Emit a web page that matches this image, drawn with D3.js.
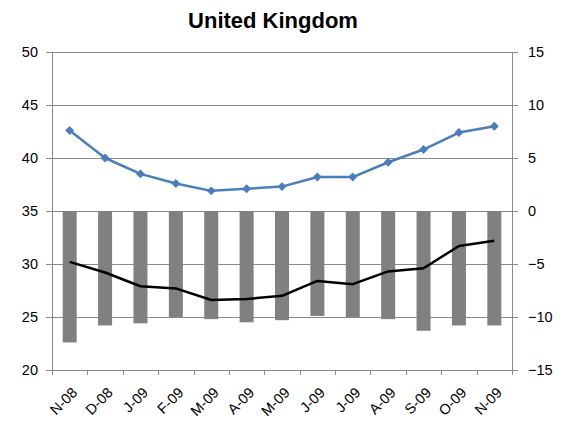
<!DOCTYPE html>
<html>
<head>
<meta charset="utf-8">
<script src="https://cdn.jsdelivr.net/npm/d3@7/dist/d3.min.js"></script>
<style>
  body { margin: 0; background: #fff; }
  svg text { font-family: "Liberation Sans", Arial, sans-serif; fill: #000; }
</style>
</head>
<body>
<svg id="chart" width="564" height="421"></svg>
<script>
const months = ["N-08","D-08","J-09","F-09","M-09","A-09","M-09","J-09","J-09","A-09","S-09","O-09","N-09"];
// Left-axis series
const blueSeries  = [42.6, 40.0, 38.5, 37.6, 36.9, 37.1, 37.3, 38.2, 38.2, 39.6, 40.8, 42.4, 43.0];
const blackSeries = [30.2, 29.2, 27.9, 27.7, 26.6, 26.7, 27.0, 28.4, 28.1, 29.3, 29.6, 31.7, 32.2];
// Right-axis bars
const barSeries   = [-12.4, -10.8, -10.6, -10.0, -10.2, -10.5, -10.3, -9.9, -10.0, -10.2, -11.3, -10.8, -10.8];
const leftTicks  = [20, 25, 30, 35, 40, 45, 50];
const rightTicks = [-15, -10, -5, 0, 5, 10, 15];

const svg = d3.select("#chart");
const m = { left: 52, right: 512, top: 52, bottom: 370 };
const gridColor = "#8a8a8a";

const x = d3.scaleBand().domain(d3.range(months.length)).range([m.left, m.right]).paddingInner(0).paddingOuter(0);
const yL = d3.scaleLinear().domain([20, 50]).range([m.bottom, m.top]);
const yR = d3.scaleLinear().domain([-15, 15]).range([m.bottom, m.top]);

// Title
svg.append("text").attr("x", 273).attr("y", 28).attr("text-anchor", "middle")
  .style("font-size", "22px").style("font-weight", "bold").text("United Kingdom");

// Horizontal gridlines
svg.append("g").selectAll("line").data(leftTicks.slice(1)).join("line")
  .attr("x1", m.left).attr("x2", m.right)
  .attr("y1", d => yL(d)).attr("y2", d => yL(d))
  .attr("stroke", gridColor).attr("stroke-width", 1).attr("shape-rendering", "crispEdges");

// Bars (right axis), hanging down from zero
const bw = 14;
svg.append("g").selectAll("rect").data(barSeries).join("rect")
  .attr("x", (d, i) => x(i) + x.bandwidth() / 2 - bw / 2)
  .attr("width", bw)
  .attr("y", d => yR(Math.max(0, d)))
  .attr("height", d => Math.abs(yR(d) - yR(0)))
  .attr("fill", "#808080");

// Left axis
const axL = svg.append("g").attr("transform", `translate(${m.left},0)`)
  .call(d3.axisLeft(yL).tickValues(leftTicks).tickSize(6).tickPadding(8).tickFormat(d3.format("d")));
// Right axis
const axR = svg.append("g").attr("transform", `translate(${m.right},0)`)
  .call(d3.axisRight(yR).tickValues(rightTicks).tickSize(6).tickPadding(10).tickFormat(d3.format("d")));
// Bottom axis with ticks at category boundaries
const bx = d3.scaleLinear().domain([0, months.length]).range([m.left, m.right]);
const axB = svg.append("g").attr("transform", `translate(0,${m.bottom})`)
  .call(d3.axisBottom(bx).tickValues(d3.range(months.length + 1)).tickSize(5).tickFormat(""));

[axL, axR, axB].forEach(a => {
  a.select(".domain").attr("stroke", gridColor).attr("shape-rendering", "crispEdges");
  a.selectAll(".tick line").attr("stroke", gridColor).attr("shape-rendering", "crispEdges");
  a.selectAll(".tick text").style("font-size", "14.5px").attr("fill", "#000");
});
axL.select(".domain").attr("d", `M0,${m.top}V${m.bottom}`);
axR.select(".domain").attr("d", `M0,${m.top}V${m.bottom}`);
axB.select(".domain").attr("d", `M${m.left},0H${m.right}`);

// Category labels, rotated
svg.append("g").selectAll("text").data(months).join("text")
  .attr("transform", (d, i) => `translate(${x(i) + x.bandwidth() / 2 + 5},${m.bottom + 20}) rotate(-45)`)
  .attr("text-anchor", "end").attr("dy", "0.35em")
  .style("font-size", "14.5px").text(d => d);

// Black line (left axis)
const line = d3.line().x((d, i) => x(i) + x.bandwidth() / 2).y(d => yL(d));
svg.append("path").datum(blackSeries).attr("d", line)
  .attr("fill", "none").attr("stroke", "#000").attr("stroke-width", 2.5).attr("stroke-linejoin", "round");

// Blue line with diamond markers (left axis)
svg.append("path").datum(blueSeries).attr("d", line)
  .attr("fill", "none").attr("stroke", "#4a7ebb").attr("stroke-width", 2.5).attr("stroke-linejoin", "round");
svg.append("g").selectAll("path").data(blueSeries).join("path")
  .attr("transform", (d, i) => `translate(${x(i) + x.bandwidth() / 2},${yL(d)}) rotate(45)`)
  .attr("d", d3.symbol(d3.symbolSquare, 40))
  .attr("fill", "#4a7ebb");
</script>
</body>
</html>
